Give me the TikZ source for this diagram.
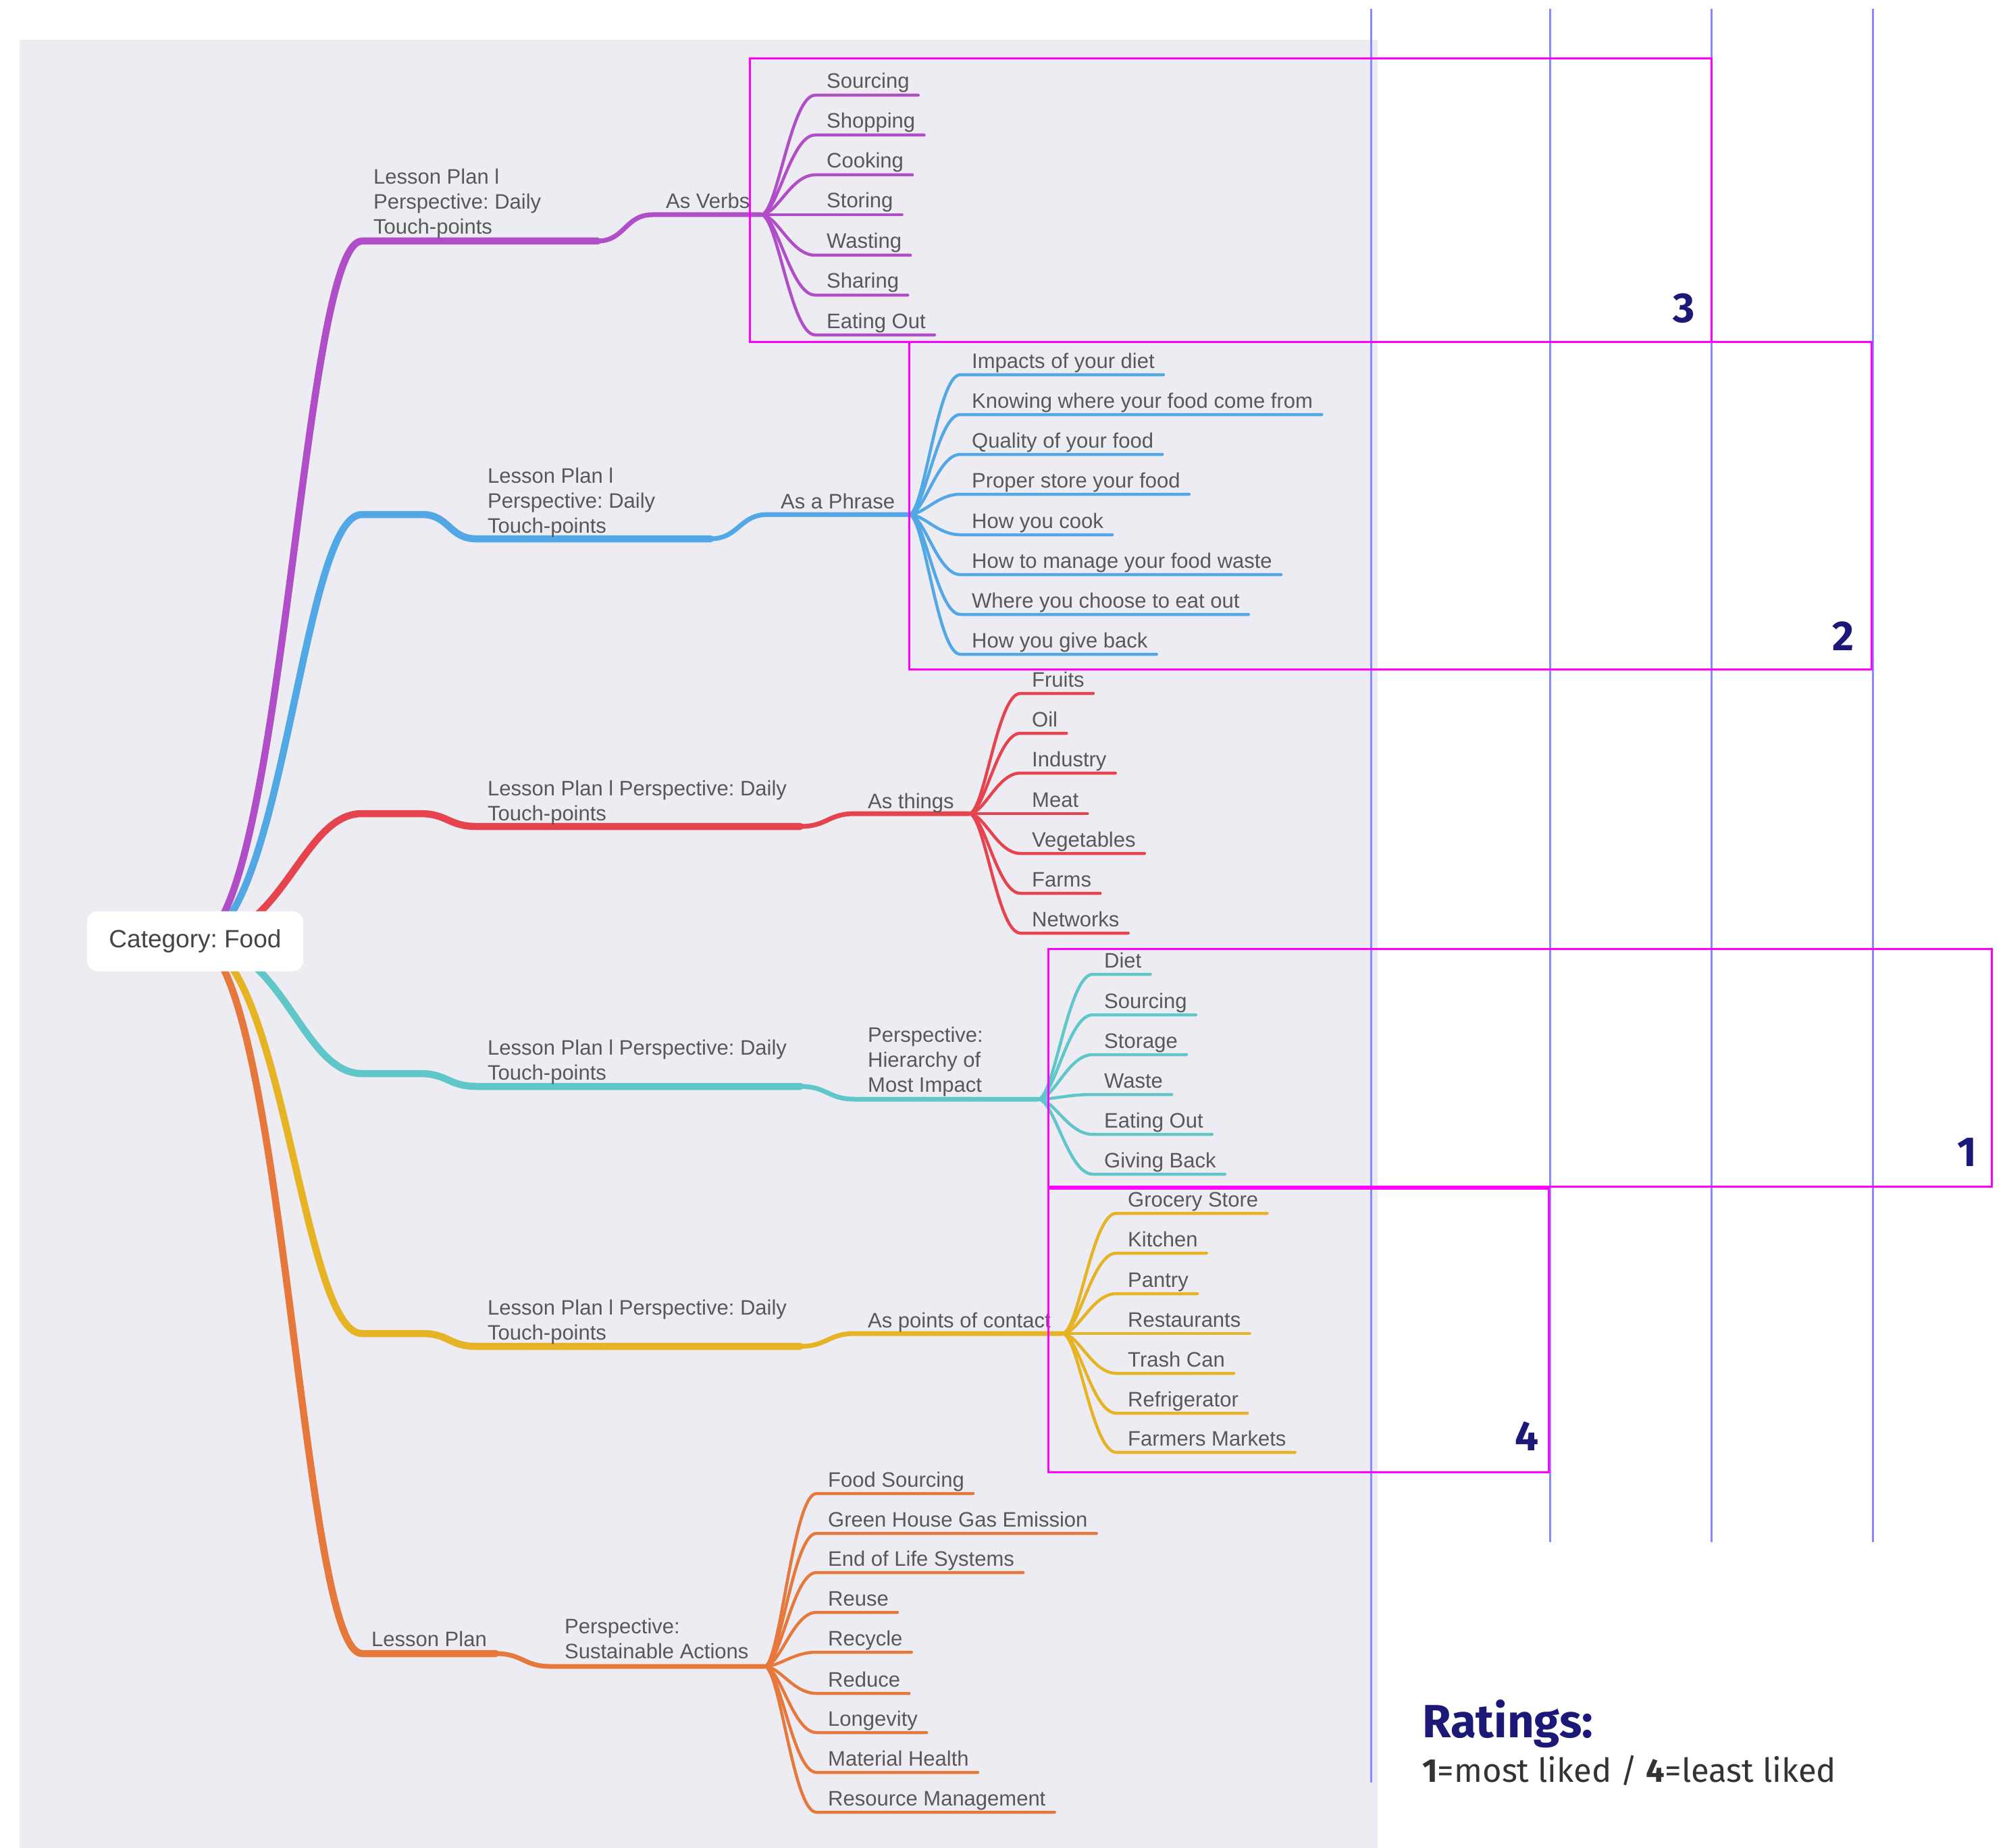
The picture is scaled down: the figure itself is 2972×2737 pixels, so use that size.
\documentclass[tikz,border=0pt]{standalone}
\usepackage{fontspec}
\setmainfont{Liberation Sans}
\newfontfamily\ratfont{Fira Sans}
\frenchspacing
\usetikzlibrary{calc}
\pgfdeclarelayer{bg}
\pgfsetlayers{bg,main}
\definecolor{bgc}{RGB}{237,236,243}
\definecolor{cpur}{RGB}{176,78,200}
\definecolor{cblu}{RGB}{82,168,228}
\definecolor{cred}{RGB}{229,67,77}
\definecolor{ctea}{RGB}{95,198,202}
\definecolor{cyel}{RGB}{230,179,36}
\definecolor{cora}{RGB}{230,120,60}
\definecolor{txt}{RGB}{88,88,88}
\definecolor{cattxt}{RGB}{68,68,68}
\definecolor{navy}{RGB}{27,24,120}
\definecolor{mag}{RGB}{255,0,255}
\definecolor{vline}{RGB}{136,136,255}
\definecolor{subtxt}{RGB}{51,51,51}
\tikzset{
  mmtext/.style={font=\fontsize{31}{37}\selectfont, text=txt, inner sep=0pt, align=left},
  leaftext/.style={mmtext},
  trunk/.style={line width=10.5pt, line cap=round, line join=round},
  branch/.style={line width=7pt, line cap=round, line join=round},
  leafline/.style={line width=4.5pt, line cap=round, line join=round},
  ratebox/.style={draw=mag, line width=3pt},
  gridline/.style={draw=vline, line width=3pt},
  ratenum/.style={font=\ratfont\bfseries\fontsize{62}{62}\selectfont, text=navy, inner sep=0pt},
}
\newcommand\mmleaf[6]{%
  \coordinate (#1s) at (#4,#5);
  \node[leaftext, anchor=base west] (#1) at (#4+17,#5-10) {#6};
  \begin{pgfonlayer}{bg}
  \draw[leafline,#2] (#3) .. controls ($(#3)!0.3!(#3 -| #1s)$) and ($(#3 |- #1s)!0.55!(#1s)$) .. (#1s) -- ($(#1.east |- #1s)+(13,0)$);
  \end{pgfonlayer}
}
\begin{document}
\begin{tikzpicture}[x=1pt,y=-1pt]
\useasboundingbox (0,0) rectangle (2972,2737);
\begin{pgfonlayer}{bg}
\fill[bgc] (29,59) rectangle (2040,2737);
\end{pgfonlayer}

% central node
\node[fill=white, rounded corners=16pt, minimum width=320pt, minimum height=89pt,
      font=\fontsize{37}{44}\selectfont, text=cattxt, inner sep=0pt] (cat) at (289,1394) {Category: Food};

% ---------- purple ----------
\coordinate (p1) at (536,357);
\coordinate (p2) at (885,357);
\coordinate (p3) at (966,318);
\coordinate (phub) at (1127,318);
\begin{pgfonlayer}{bg}
\draw[trunk,cpur] (cat.center) .. controls ($(cat.center)+(130,0)$) and ($(p1)+(-90,0)$) .. (p1) -- (p2);
\draw[branch,cpur] (p2) .. controls ($(p2)+(40,0)$) and ($(p3)+(-40,0)$) .. (p3) -- (phub);
\end{pgfonlayer}
\node[mmtext, anchor=north west] (pL1) at (553,250) {Lesson Plan l\\Perspective: Daily\\Touch-points};
\node[mmtext, anchor=base west] (pL2) at (986,309) {As Verbs};
\mmleaf{pv1}{cpur}{phub}{1207}{141}{Sourcing}
\mmleaf{pv2}{cpur}{phub}{1207}{200}{Shopping}
\mmleaf{pv3}{cpur}{phub}{1207}{259}{Cooking}
\mmleaf{pv4}{cpur}{phub}{1207}{318}{Storing}
\mmleaf{pv5}{cpur}{phub}{1207}{378}{Wasting}
\mmleaf{pv6}{cpur}{phub}{1207}{437}{Sharing}
\mmleaf{pv7}{cpur}{phub}{1207}{496}{Eating Out}

% ---------- blue ----------
\coordinate (b1) at (536,762);
\coordinate (b2) at (625,762);
\coordinate (b3) at (705,798);
\coordinate (b4) at (1052,798);
\coordinate (b5) at (1137,762);
\coordinate (bhub) at (1346,762);
\begin{pgfonlayer}{bg}
\draw[trunk,cblu] (cat.center) .. controls ($(cat.center)+(130,0)$) and ($(b1)+(-90,0)$) .. (b1) -- (b2)
   .. controls ($(b2)+(40,0)$) and ($(b3)+(-40,0)$) .. (b3) -- (b4);
\draw[branch,cblu] (b4) .. controls ($(b4)+(42,0)$) and ($(b5)+(-42,0)$) .. (b5) -- (bhub);
\end{pgfonlayer}
\node[mmtext, anchor=north west] (bL1) at (722,693) {Lesson Plan l\\Perspective: Daily\\Touch-points};
\node[mmtext, anchor=base west] (bL2) at (1156,753) {As a Phrase};
\mmleaf{bl1}{cblu}{bhub}{1422}{555}{Impacts of your diet}
\mmleaf{bl2}{cblu}{bhub}{1422}{614}{Knowing where your food come from}
\mmleaf{bl3}{cblu}{bhub}{1422}{673}{Quality of your food}
\mmleaf{bl4}{cblu}{bhub}{1422}{732}{Proper store your food}
\mmleaf{bl5}{cblu}{bhub}{1422}{792}{How you cook}
\mmleaf{bl6}{cblu}{bhub}{1422}{851}{How to manage your food waste}
\mmleaf{bl7}{cblu}{bhub}{1422}{910}{Where you choose to eat out}
\mmleaf{bl8}{cblu}{bhub}{1422}{969}{How you give back}

% ---------- red ----------
\coordinate (r1) at (536,1205);
\coordinate (r2) at (622,1205);
\coordinate (r3) at (705,1224);
\coordinate (r4) at (1185,1224);
\coordinate (r5) at (1266,1205);
\coordinate (rhub) at (1435,1205);
\begin{pgfonlayer}{bg}
\draw[trunk,cred] (cat.center) .. controls ($(cat.center)+(130,0)$) and ($(r1)+(-90,0)$) .. (r1) -- (r2)
   .. controls ($(r2)+(40,0)$) and ($(r3)+(-40,0)$) .. (r3) -- (r4);
\draw[branch,cred] (r4) .. controls ($(r4)+(40,0)$) and ($(r5)+(-40,0)$) .. (r5) -- (rhub);
\end{pgfonlayer}
\node[mmtext, anchor=north west] (rL1) at (722,1156) {Lesson Plan l Perspective: Daily\\Touch-points};
\node[mmtext, anchor=base west] (rL2) at (1285,1197) {As things};
\mmleaf{rd1}{cred}{rhub}{1511}{1027}{Fruits}
\mmleaf{rd2}{cred}{rhub}{1511}{1086}{Oil}
\mmleaf{rd3}{cred}{rhub}{1511}{1145}{Industry}
\mmleaf{rd4}{cred}{rhub}{1511}{1205}{Meat}
\mmleaf{rd5}{cred}{rhub}{1511}{1264}{Vegetables}
\mmleaf{rd6}{cred}{rhub}{1511}{1323}{Farms}
\mmleaf{rd7}{cred}{rhub}{1511}{1382}{Networks}

% ---------- teal ----------
\coordinate (t1) at (536,1590);
\coordinate (t2) at (622,1590);
\coordinate (t3) at (705,1609);
\coordinate (t4) at (1185,1609);
\coordinate (t5) at (1266,1628);
\coordinate (thub) at (1537,1628);
\begin{pgfonlayer}{bg}
\draw[trunk,ctea] (cat.center) .. controls ($(cat.center)+(130,0)$) and ($(t1)+(-90,0)$) .. (t1) -- (t2)
   .. controls ($(t2)+(40,0)$) and ($(t3)+(-40,0)$) .. (t3) -- (t4);
\draw[branch,ctea] (t4) .. controls ($(t4)+(40,0)$) and ($(t5)+(-40,0)$) .. (t5) -- (thub);
\end{pgfonlayer}
\node[mmtext, anchor=north west] (tL1) at (722,1540) {Lesson Plan l Perspective: Daily\\Touch-points};
\node[mmtext, anchor=north west] (tL2) at (1285,1521) {Perspective:\\Hierarchy of\\Most Impact};
\mmleaf{te1}{ctea}{thub}{1618}{1443}{Diet}
\mmleaf{te2}{ctea}{thub}{1618}{1503}{Sourcing}
\mmleaf{te3}{ctea}{thub}{1618}{1562}{Storage}
\mmleaf{te4}{ctea}{thub}{1618}{1621}{Waste}
\mmleaf{te5}{ctea}{thub}{1618}{1680}{Eating Out}
\mmleaf{te6}{ctea}{thub}{1618}{1739}{Giving Back}

% ---------- yellow ----------
\coordinate (y1) at (536,1975);
\coordinate (y2) at (625,1975);
\coordinate (y3) at (705,1994);
\coordinate (y4) at (1185,1994);
\coordinate (y5) at (1266,1975);
\coordinate (yhub) at (1573,1975);
\begin{pgfonlayer}{bg}
\draw[trunk,cyel] (cat.center) .. controls ($(cat.center)+(130,0)$) and ($(y1)+(-90,0)$) .. (y1) -- (y2)
   .. controls ($(y2)+(40,0)$) and ($(y3)+(-40,0)$) .. (y3) -- (y4);
\draw[branch,cyel] (y4) .. controls ($(y4)+(40,0)$) and ($(y5)+(-40,0)$) .. (y5) -- (yhub);
\end{pgfonlayer}
\node[mmtext, anchor=north west] (yL1) at (722,1925) {Lesson Plan l Perspective: Daily\\Touch-points};
\node[mmtext, anchor=base west] (yL2) at (1285,1966) {As points of contact};
\mmleaf{ye1}{cyel}{yhub}{1653}{1797}{Grocery Store}
\mmleaf{ye2}{cyel}{yhub}{1653}{1856}{Kitchen}
\mmleaf{ye3}{cyel}{yhub}{1653}{1916}{Pantry}
\mmleaf{ye4}{cyel}{yhub}{1653}{1975}{Restaurants}
\mmleaf{ye5}{cyel}{yhub}{1653}{2034}{Trash Can}
\mmleaf{ye6}{cyel}{yhub}{1653}{2093}{Refrigerator}
\mmleaf{ye7}{cyel}{yhub}{1653}{2151}{Farmers Markets}

% ---------- orange ----------
\coordinate (o1) at (536,2449);
\coordinate (o2) at (734,2449);
\coordinate (o3) at (815,2468);
\coordinate (ohub) at (1132,2468);
\begin{pgfonlayer}{bg}
\draw[trunk,cora] (cat.center) .. controls ($(cat.center)+(130,0)$) and ($(o1)+(-90,0)$) .. (o1) -- (o2);
\draw[branch,cora] (o2) .. controls ($(o2)+(40,0)$) and ($(o3)+(-40,0)$) .. (o3) -- (ohub);
\end{pgfonlayer}
\node[mmtext, anchor=base west] (oL1) at (550,2438) {Lesson Plan};
\node[mmtext, anchor=north west] (oL2) at (836,2397) {Perspective:\\Sustainable Actions};
\mmleaf{or1}{cora}{ohub}{1209}{2212}{Food Sourcing}
\mmleaf{or2}{cora}{ohub}{1209}{2271}{Green House Gas Emission}
\mmleaf{or3}{cora}{ohub}{1209}{2329}{End of Life Systems}
\mmleaf{or4}{cora}{ohub}{1209}{2388}{Reuse}
\mmleaf{or5}{cora}{ohub}{1209}{2447}{Recycle}
\mmleaf{or6}{cora}{ohub}{1209}{2508}{Reduce}
\mmleaf{or7}{cora}{ohub}{1209}{2566}{Longevity}
\mmleaf{or8}{cora}{ohub}{1209}{2625}{Material Health}
\mmleaf{or9}{cora}{ohub}{1209}{2684}{Resource Management}

% ---------- rating grid ----------
\draw[gridline] (2030,13) -- (2030,2640);
\draw[gridline] (2295,13) -- (2295,2284);
\draw[gridline] (2534,13) -- (2534,2284);
\draw[gridline] (2773,13) -- (2773,2284);

\draw[ratebox] (1110,87) rectangle (2534,506);
\draw[ratebox] (1346,506) rectangle (2771,991);
\draw[ratebox] (1552,1405) rectangle (2949,1757);
\draw[ratebox] (1552,1760) rectangle (2293,2180);

\node[ratenum] (n3) at (2494,457) {3};
\node[ratenum] (n2) at (2729,942) {2};
\node[ratenum] (n1) at (2913,1707) {1};
\node[ratenum] (n4) at (2261,2127) {4};

\node[anchor=base west, inner sep=0pt, text=navy, font=\ratfont\bfseries\fontsize{69}{74}\selectfont] (ratT) at (2106,2573) {Ratings:};
\node[anchor=base west, inner sep=0pt, text=subtxt, font=\ratfont\fontsize{49}{54}\selectfont] (ratS) at (2106,2639) {\textbf{1}=most liked / \textbf{4}=least liked};
\end{tikzpicture}
\end{document}
